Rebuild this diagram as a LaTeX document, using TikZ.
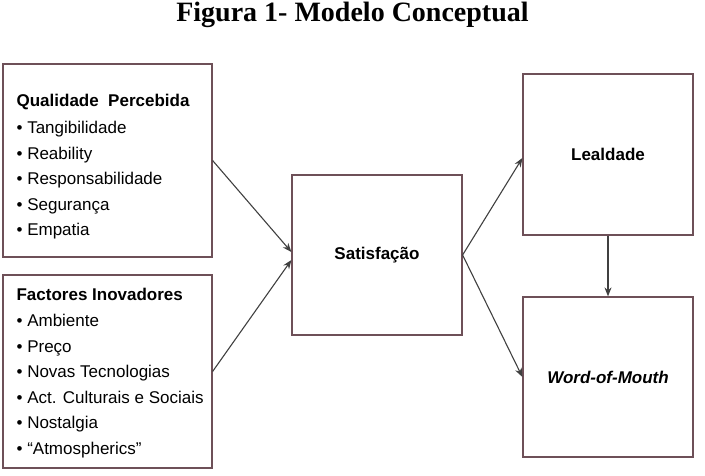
\documentclass[tikz,border=0pt]{standalone}
\usepackage{fontspec}
\setmainfont{Liberation Serif}
\setsansfont{Liberation Sans}
\usetikzlibrary{arrows.meta,positioning}
\definecolor{boxline}{HTML}{6E5058}
\definecolor{linkgray}{HTML}{404040}

\begin{document}
\begin{tikzpicture}[
  x=1pt,y=-1pt,
  >=Stealth,
  panel/.style={draw=boxline,line width=1.2pt,fill=white,
    minimum width=209pt,minimum height=193pt,inner sep=0pt},
  stage/.style={draw=boxline,line width=1.2pt,fill=white,
    minimum width=170pt,minimum height=160pt,inner sep=0pt,
    font=\sffamily\bfseries\fontsize{17}{20}\selectfont},
  itemlist/.style={align=left,inner sep=0pt,anchor=north west,
    font=\sffamily\fontsize{17}{25.5}\selectfont},
  link/.style={draw=linkgray,line width=1.1pt,
    -{Stealth[length=9pt,width=7pt]}}
]
  \useasboundingbox (0,0) rectangle (705,476);
  \node[font=\bfseries\fontsize{28}{30}\selectfont,anchor=base]
    (title) at (352.5,22) {Figura 1- Modelo Conceptual};

  % left column
  \node[panel] (qual) at (107.5,160.5) {};
  \node[panel] (fact) at (107.5,371.5) {};
  \node[itemlist] (qualitems) at ([xshift=14pt,yshift=-31pt]qual.north west)
    {\textbf{Qualidade\ \ Percebida}\\[1.5pt]
     • Tangibilidade\\ • Reability\\ • Responsabilidade\\
     • Segurança\\ • Empatia};
  \node[itemlist] (factitems) at ([xshift=14pt,yshift=-14pt]fact.north west)
    {\textbf{Factores Inovadores}\\[0.5pt]
     • Ambiente\\ • Preço\\ • Novas Tecnologias\\
     • Act. Culturais e Sociais\\ • Nostalgia\\ • “Atmospherics”};

  % centre and right
  \node[stage] (sat) at (377,255) {Satisfação};
  \node[stage,minimum height=161pt] (leal) at (608,154.5) {Lealdade};
  \node[stage] (wom) at (608,377) {\textit{Word-of-Mouth}};

  \draw[link] (qual.east) -- ([yshift=3pt]sat.west);
  \draw[link] (fact.east) -- ([yshift=-5pt]sat.west);
  \draw[link] (sat.east) -- ([yshift=-3.5pt]leal.west);
  \draw[link] (sat.east) -- (wom.west);
  \draw[link] (leal.south) -- (wom.north);
\end{tikzpicture}
\end{document}
